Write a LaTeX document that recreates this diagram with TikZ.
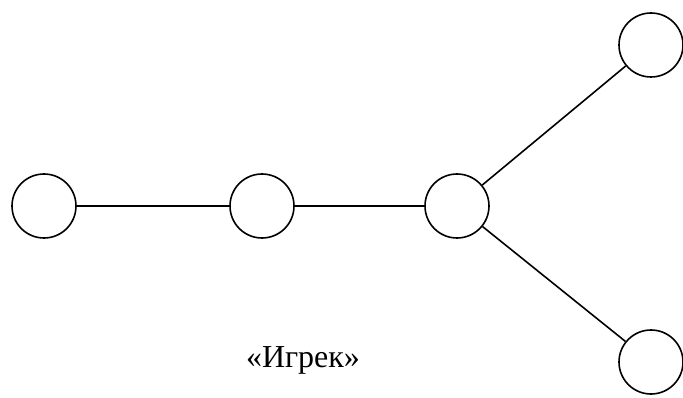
\documentclass[tikz,border=0pt]{standalone}
\usepackage{fontspec}
\setmainfont{Liberation Serif}
\begin{document}
\begin{tikzpicture}[x=1pt,y=-1pt,
        vertex/.style={circle,draw,minimum size=64pt,inner sep=0pt,line width=1.6pt},
        edge/.style={line width=1.6pt}]
        \useasboundingbox (0,0) rectangle (683,398);
        \node[vertex] (v1) at (44,206) {};
        \node[vertex] (v2) at (262,206) {};
        \node[vertex] (v3) at (457,206) {};
        \node[vertex] (v4) at (651,45) {};
        \node[vertex] (v5) at (651,362) {};
        \draw[edge] (v1) -- (v2);
        \draw[edge] (v2) -- (v3);
        \draw[edge] (v3) -- (v4);
        \draw[edge] (v3) -- (v5);
        \node (name) at (303,360) {\fontsize{32}{34}\selectfont «Игрек»};
      \end{tikzpicture}
\end{document}
